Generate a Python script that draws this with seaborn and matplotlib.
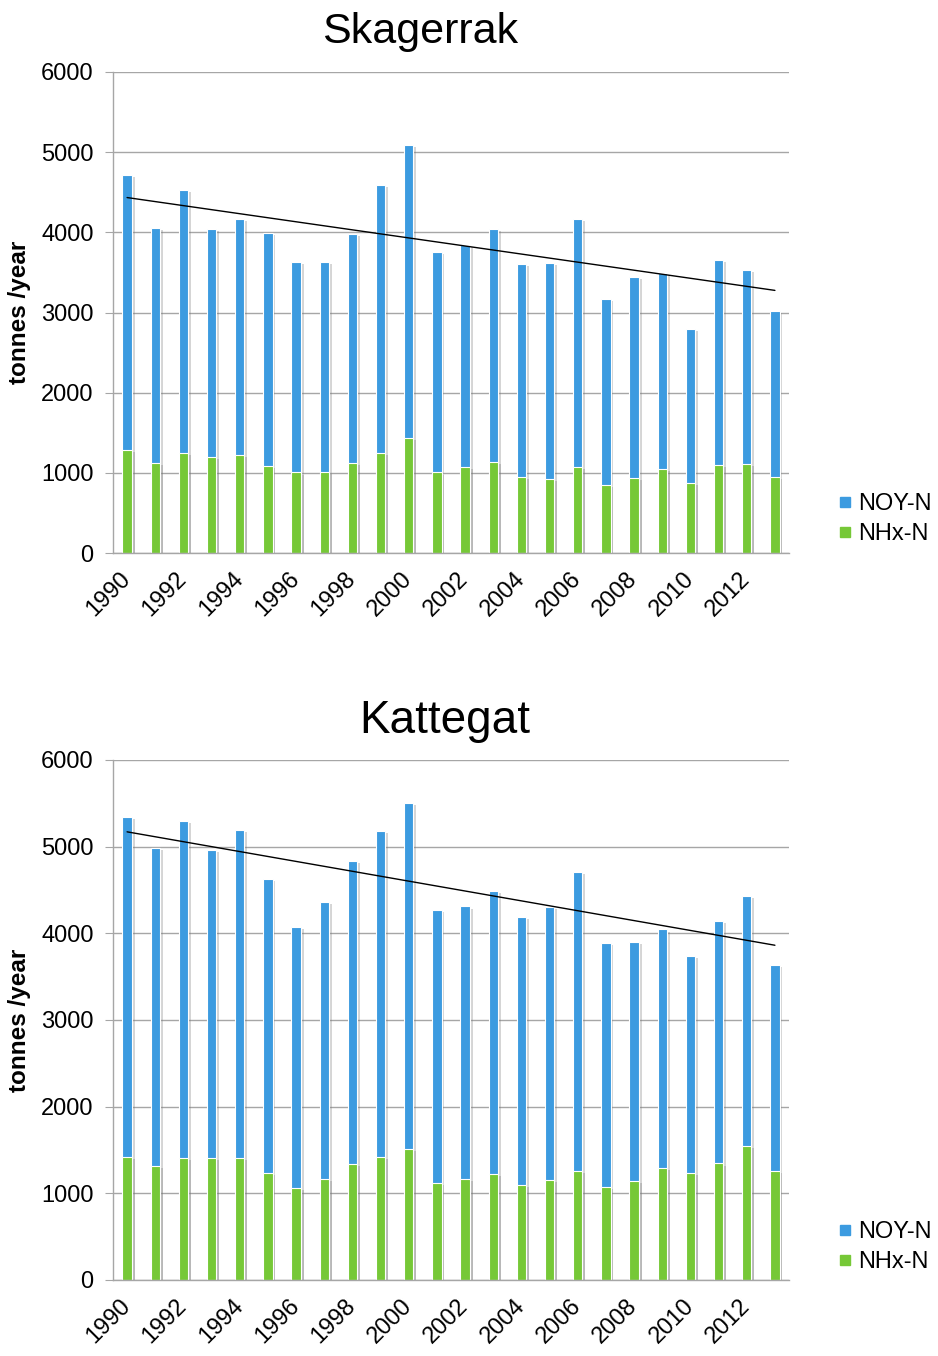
import numpy as np
import pandas as pd
import seaborn as sns
import matplotlib.pyplot as plt
import matplotlib.patheffects as pe
from matplotlib.lines import Line2D

# Years and deposition values (tonnes/year)
years = list(range(1990, 2014))

skag_nhx = [1285, 1120, 1250, 1200, 1220, 1090, 1005, 1015, 1120, 1250, 1440, 1005,
            1070, 1140, 950, 925, 1070, 850, 940, 1050, 870, 1100, 1115, 950]
skag_noy = [3430, 2930, 3280, 2840, 2945, 2900, 2620, 2610, 2855, 3340, 3645, 2755,
            2775, 2900, 2660, 2690, 3095, 2315, 2505, 2445, 1920, 2555, 2410, 2065]

katt_nhx = [1415, 1315, 1405, 1405, 1405, 1240, 1065, 1170, 1340, 1425, 1510, 1125,
            1165, 1225, 1095, 1155, 1260, 1070, 1140, 1290, 1240, 1345, 1550, 1260]
katt_noy = [3925, 3675, 3890, 3555, 3785, 3385, 3010, 3195, 3500, 3755, 3990, 3140,
            3145, 3265, 3095, 3145, 3450, 2815, 2760, 2755, 2500, 2800, 2880, 2375]

blue = '#3c9be0'
green = '#76c837'
grid_col = '#a6a6a6'

sns.set_style("white")
plt.rcParams['font.family'] = ['Liberation Sans', 'DejaVu Sans']
plt.rcParams.update({'text.color': 'black', 'axes.labelcolor': 'black',
                     'xtick.labelcolor': 'black', 'ytick.labelcolor': 'black'})

fig = plt.figure(figsize=(9.38, 13.56), dpi=100)


def draw_panel(ax, nhx, noy):
    df = pd.DataFrame({'year': [str(y) for y in years],
                       'NHx': nhx,
                       'total': np.array(nhx) + np.array(noy)})
    shadow = [pe.SimplePatchShadow(offset=(2, -1.5), shadow_rgbFace='#777777', alpha=0.3),
              pe.Normal()]
    sns.barplot(data=df, x='year', y='total', color=blue, saturation=1, width=0.33,
                edgecolor='white', linewidth=0.8, ax=ax, errorbar=None)
    sns.barplot(data=df, x='year', y='NHx', color=green, saturation=1, width=0.33,
                edgecolor='white', linewidth=0.8, ax=ax, errorbar=None)
    for p in ax.patches:
        p.set_path_effects(shadow)
    # linear trend line on totals
    sns.regplot(x=np.arange(len(years)), y=df['total'].values, ax=ax, scatter=False,
                ci=None, truncate=True, line_kws={'color': 'black', 'linewidth': 1})

    ax.set_xlim(-0.5, len(years) - 0.5)
    ax.set_ylim(0, 6000)
    ax.set_yticks(range(0, 6001, 1000))
    ax.yaxis.grid(True, color=grid_col, linewidth=1)
    ax.set_axisbelow(True)
    for s in ['top', 'right']:
        ax.spines[s].set_visible(False)
    for s in ['left', 'bottom']:
        ax.spines[s].set_color(grid_col)
        ax.spines[s].set_linewidth(1)

    ax.set_xticks(range(0, len(years), 2))
    ax.set_xticklabels([str(y) for y in years[::2]], rotation=45, ha='right',
                       va='center', rotation_mode='anchor', fontsize=17)
    ax.set_xticks(np.arange(-0.5, len(years), 1), minor=True)
    ax.tick_params(axis='x', which='major', length=0, pad=16)
    ax.tick_params(axis='x', which='minor', length=6, color=grid_col, direction='out')
    ax.tick_params(axis='y', length=6, color=grid_col, direction='out', pad=8, labelsize=17)
    ax.tick_params(axis='both', bottom=True, left=True)
    ax.set_xlabel('')
    ax.set_ylabel('tonnes /year', fontsize=17.5, fontweight='bold')
    ax.yaxis.set_label_coords(-0.122, 0.5)

    handles = [Line2D([], [], marker='s', linestyle='', color=blue, markersize=7),
               Line2D([], [], marker='s', linestyle='', color=green, markersize=7)]
    return handles


ax1 = fig.add_axes([113 / 938, 1 - 553 / 1356, 676 / 938, 481 / 1356])
h = draw_panel(ax1, skag_nhx, skag_noy)
fig.legend(h, ['NOY-N', 'NHx-N'], loc='center left',
           bbox_to_anchor=(826 / 938, 1 - 519 / 1356), frameon=False, fontsize=17,
           handletextpad=0.15, handlelength=0.8, labelspacing=0.35, borderaxespad=0)
fig.text(420 / 938, 1 - 43 / 1356, 'Skagerrak', ha='center', va='baseline', fontsize=31)

ax2 = fig.add_axes([113 / 938, 1 - 1280 / 1356, 676 / 938, 520 / 1356])
h = draw_panel(ax2, katt_nhx, katt_noy)
fig.legend(h, ['NOY-N', 'NHx-N'], loc='center left',
           bbox_to_anchor=(826 / 938, 1 - 1247 / 1356), frameon=False, fontsize=17,
           handletextpad=0.15, handlelength=0.8, labelspacing=0.35, borderaxespad=0)
fig.text(445 / 938, 1 - 733 / 1356, 'Kattegat', ha='center', va='baseline', fontsize=33)

plt.savefig('out.png', dpi=100)
plt.close()
